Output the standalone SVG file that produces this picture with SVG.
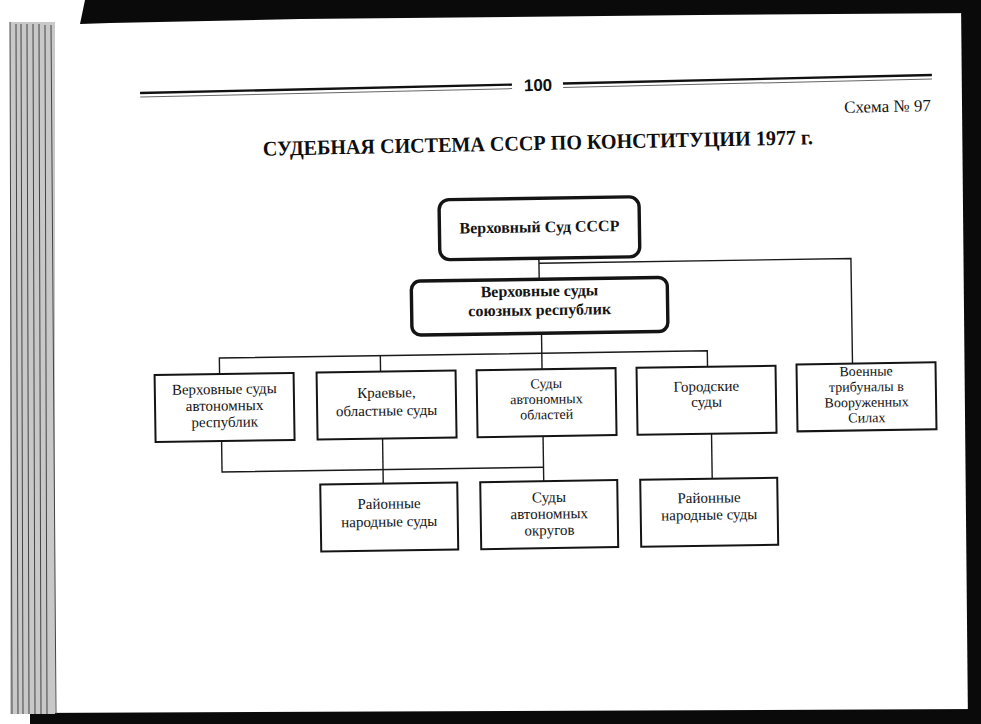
<svg xmlns="http://www.w3.org/2000/svg" width="981" height="724" viewBox="0 0 981 724">
<style>
.box{fill:#fff;stroke:#141414;stroke-width:2}
.rbox{fill:#fff;stroke:#141414;stroke-width:3.4}
.conn{fill:none;stroke:#1a1a1a;stroke-width:1.4}
.t{font-family:"Liberation Serif","DejaVu Serif",serif;font-size:15px;fill:#141414;text-anchor:middle}
.ts{font-family:"Liberation Serif","DejaVu Serif",serif;font-size:14px;fill:#141414;text-anchor:middle}
.tb{font-family:"Liberation Serif","DejaVu Serif",serif;font-size:16px;font-weight:bold;fill:#141414;text-anchor:middle}
</style>
<rect width="981" height="724" fill="#fff"/>
<g id="page-edges">
<polygon points="85,0 981,0 981,13 700,15 300,19 110,23 80,24" fill="#0a0a0a"/>
<polygon points="961,0 981,0 981,724 968,724" fill="#0a0a0a"/>
<polygon points="30,713 981,709 981,724 30,724" fill="#0a0a0a"/>
<rect x="10" y="22" width="45" height="692" fill="#c8c8c8"/>
<g stroke="#444" stroke-width="1">
<line x1="10" y1="22" x2="12" y2="714"/><line x1="16" y1="24" x2="18" y2="714"/><line x1="21" y1="24" x2="23" y2="714"/><line x1="27" y1="24" x2="29" y2="714"/><line x1="33" y1="24" x2="35" y2="714"/><line x1="39" y1="24" x2="41" y2="714"/><line x1="45" y1="25" x2="47" y2="714"/><line x1="51" y1="25" x2="56" y2="714"/>
</g>
</g>
<g id="header" transform="rotate(-1.3 538 85)">
<line x1="140" y1="84" x2="512" y2="84" stroke="#111" stroke-width="2.4"/>
<line x1="140" y1="88" x2="512" y2="88" stroke="#666" stroke-width="1"/>
<line x1="563" y1="84" x2="932" y2="84" stroke="#111" stroke-width="2.4"/>
<line x1="563" y1="88" x2="932" y2="88" stroke="#666" stroke-width="1"/>
<text x="538" y="91" font-family="Liberation Sans, Arial, sans-serif" font-size="17" font-weight="bold" text-anchor="middle" fill="#111">100</text>
</g>
<text x="931" y="112" font-family="Liberation Serif, DejaVu Serif, serif" font-size="17" text-anchor="end" fill="#141414" transform="rotate(-1 886 110)">Схема № 97</text>
<text x="538" y="150" font-family="Liberation Serif, DejaVu Serif, serif" font-size="21" font-weight="bold" text-anchor="middle" fill="#0e0e0e" textLength="550" lengthAdjust="spacingAndGlyphs" transform="rotate(-1.2 538 150)">СУДЕБНАЯ СИСТЕМА СССР ПО КОНСТИТУЦИИ 1977 г.</text>
<g id="diagram" transform="rotate(-0.86 490 400)">
<g id="connectors">
<path class="conn" d="M541 259V280"/>
<path class="conn" d="M541 264H853V369"/>
<path class="conn" d="M542.5 334V370"/>
<path class="conn" d="M220 370V354H708V370"/>
<path class="conn" d="M381 354V370"/>
<path class="conn" d="M221 437V468H542.5"/>
<path class="conn" d="M542.5 437V482"/>
<path class="conn" d="M382 437V482"/>
<path class="conn" d="M711 437V482"/>
</g>
<g id="n-supreme-ussr">
<rect class="rbox" x="442" y="199" width="200" height="60" rx="10"/>
<text class="tb" x="542" y="233">Верховный Суд СССР</text>
</g>
<g id="n-supreme-union">
<rect class="rbox" x="413" y="280" width="256" height="54" rx="9"/>
<text class="tb" x="541" y="297">Верховные суды</text>
<text class="tb" x="541" y="316">союзных республик</text>
</g>
<g id="n-supreme-autonomous">
<rect class="box" x="155" y="370" width="139" height="67"/>
<text class="t" x="224.5" y="390">Верховные суды</text>
<text class="t" x="224.5" y="406.5">автономных</text>
<text class="t" x="224.5" y="423">республик</text>
</g>
<g id="n-regional">
<rect class="box" x="317" y="370" width="139" height="67"/>
<text class="t" x="386.5" y="396">Краевые,</text>
<text class="t" x="386.5" y="414">областные суды</text>
</g>
<g id="n-autonomous-oblast">
<rect class="box" x="477" y="370" width="139" height="67"/>
<text class="ts" x="546.5" y="389">Суды</text>
<text class="ts" x="546.5" y="404.5">автономных</text>
<text class="ts" x="546.5" y="420">областей</text>
</g>
<g id="n-city">
<rect class="box" x="637" y="370" width="139" height="67"/>
<text class="t" x="706.5" y="394.5">Городские</text>
<text class="t" x="706.5" y="410">суды</text>
</g>
<g id="n-military">
<rect class="box" x="797" y="369" width="139" height="67"/>
<text class="ts" x="866.5" y="381.5">Военные</text>
<text class="ts" x="866.5" y="397">трибуналы в</text>
<text class="ts" x="866.5" y="412.5">Вооруженных</text>
<text class="ts" x="866.5" y="428">Силах</text>
</g>
<g id="n-district-1">
<rect class="box" x="319" y="482" width="137" height="67"/>
<text class="t" x="387.5" y="507">Районные</text>
<text class="t" x="387.5" y="525">народные суды</text>
</g>
<g id="n-autonomous-okrug">
<rect class="box" x="479" y="482" width="137" height="67"/>
<text class="t" x="547.5" y="503">Суды</text>
<text class="t" x="547.5" y="519.5">автономных</text>
<text class="t" x="547.5" y="536">округов</text>
</g>
<g id="n-district-2">
<rect class="box" x="639" y="482" width="137" height="67"/>
<text class="t" x="707.5" y="506">Районные</text>
<text class="t" x="707.5" y="523">народные суды</text>
</g>
</g>
</svg>
